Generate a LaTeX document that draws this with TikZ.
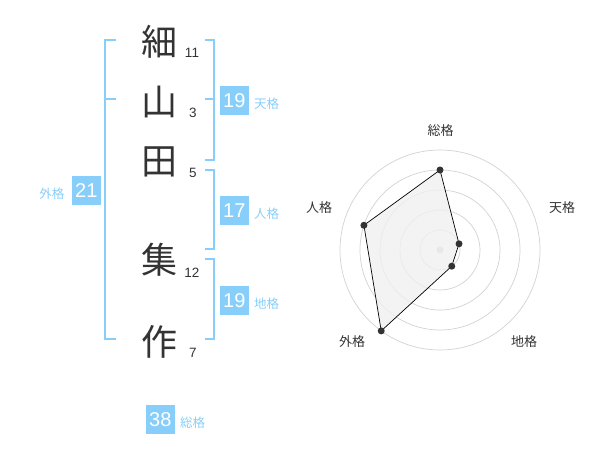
\documentclass[tikz,border=0pt]{standalone}
\usepackage{fontspec}
\setmainfont{Liberation Sans}
\newfontfamily\cjk{Noto Sans CJK JP}
\usetikzlibrary{positioning}
\definecolor{kakusky}{RGB}{135,206,250}
\definecolor{inkgray}{RGB}{51,51,51}
\tikzstyle{kanji} = [inner sep=0pt, text=inkgray, font=\cjk\fontsize{36}{36}\selectfont]
\tikzstyle{strokenum} = [inner sep=0pt, text=inkgray, font=\fontsize{13.5}{13.5}\selectfont]
\tikzstyle{badge} = [fill=kakusky, text=white, minimum size=29pt, inner sep=0pt, font=\fontsize{20}{20}\selectfont]
\tikzstyle{kaku} = [inner sep=0pt, text=kakusky, font=\cjk\fontsize{12.5}{12.5}\selectfont]
\tikzstyle{bracket} = [draw=kakusky, line width=2pt]
\tikzstyle{ring} = [draw=gray!35, line width=0.7pt]
\tikzstyle{axislabel} = [inner sep=0pt, text=inkgray, font=\cjk\fontsize{13}{13}\selectfont]
\tikzstyle{dot} = [circle, fill=inkgray, inner sep=0pt, minimum size=7pt]
\def\ctrx{440}
\def\ctry{250}

\begin{document}
\begin{tikzpicture}[x=1pt, y=-1pt]
\useasboundingbox (0,0) rectangle (600,470);

% name
\node (c1) [kanji] at (159,42) {細};
\node (c2) [kanji] at (159,102) {山};
\node (c3) [kanji] at (159,162) {田};
\node (c4) [kanji] at (159,260) {集};
\node (c5) [kanji] at (159,342) {作};

\node (n1) [strokenum] at (192,53) {11};
\node (n2) [strokenum] at (193,113) {3};
\node (n3) [strokenum] at (193,173) {5};
\node (n4) [strokenum] at (192,273) {12};
\node (n5) [strokenum] at (193,353) {7};

% brackets
\draw [bracket] (116,40) -- (105,40) -- (105,339) -- (116,339);
\draw [bracket] (105,99.5) -- (116,99.5);
\draw [bracket] (205,40) -- (214,40) -- (214,160) -- (205,160);
\draw [bracket] (205,99.5) -- (214,99.5);
\draw [bracket] (205,170) -- (214,170) -- (214,249) -- (205,249);
\draw [bracket] (205,259) -- (214,259) -- (214,339) -- (205,339);

% badges
\node (ten) [badge] at (234.3,100.3) {19};
\node (tenl) [kaku, right=5pt of ten, yshift=-3.5pt] {天格};
\node (jin) [badge] at (234.3,210.7) {17};
\node (jinl) [kaku, right=5pt of jin, yshift=-3.5pt] {人格};
\node (chi) [badge] at (234.3,300.3) {19};
\node (chil) [kaku, right=5pt of chi, yshift=-3.5pt] {地格};
\node (gai) [badge] at (86.3,190.3) {21};
\node (gail) [kaku, left=7pt of gai, yshift=-3.5pt] {外格};
\node (sou) [badge] at (160.3,419.3) {38};
\node (soul) [kaku, right=5pt of sou, yshift=-3.5pt] {総格};

% radar
\foreach \r in {20,40,60,80,100}
  \draw [ring] (\ctrx,\ctry) circle (\r);
\fill [gray!40] (\ctrx,\ctry) circle (3.5);

\begin{scope}[shift={(\ctrx,\ctry)}]
\coordinate (v1) at (-90:80);
\coordinate (v2) at (-18:20);
\coordinate (v3) at (54:20);
\coordinate (v4) at (126:100);
\coordinate (v5) at (198:80);
\filldraw [fill=gray!12, fill opacity=0.8, draw=black, line width=0.7pt] (v1) -- (v2) -- (v3) -- (v4) -- (v5) -- cycle;
\foreach \v in {v1,v2,v3,v4,v5}
  \node [dot] at (\v) {};
\end{scope}

\node (a1) [axislabel] at (440.7,130.7) {総格};
\node (a2) [axislabel] at (562,208) {天格};
\node (a3) [axislabel] at (524,342) {地格};
\node (a4) [axislabel] at (352,342) {外格};
\node (a5) [axislabel] at (319,208) {人格};

\end{tikzpicture}
\end{document}
